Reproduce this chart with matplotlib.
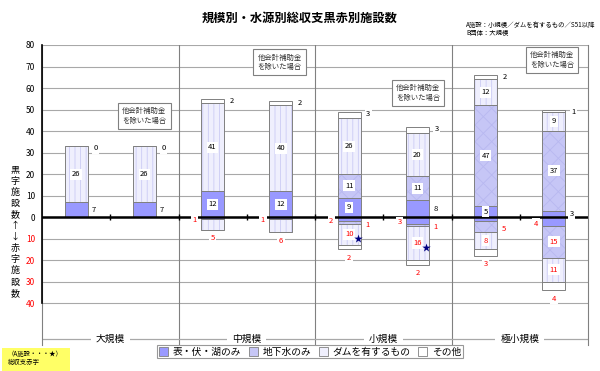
import matplotlib
matplotlib.use('Agg')
import matplotlib.pyplot as plt
from matplotlib.patches import Patch, Rectangle
import numpy as np

plt.rcParams['font.family'] = ['Noto Sans CJK JP', 'DejaVu Sans']
plt.rcParams['hatch.linewidth'] = 0.6

title = '規模別・水源別総収支黒赤別施設数'
note_lines = ['A施設：小規模／ダムを有するもの／S51以降', 'B団体：大規模']
groups = ['大規模', '中規模', '小規模', '極小規模']
series = ['表・伏・湖のみ', '地下水のみ', 'ダムを有するもの', 'その他']
y_ticks = [-40, -30, -20, -10, 0, 10, 20, 30, 40, 50, 60, 70, 80]
y_tick_labels = ['40', '30', '20', '10', '0', '10', '20', '30', '40', '50', '60', '70', '80']
ylabel_chars = list('黒字施設数↑↓赤字施設数')
box_text = '他会計補助金\nを除いた場合'
star_note = ['（A施設・・・★）', '総収支赤字']

# black-figure (positive) counts: two bars per size group
pos_surface = [7, 7, 12, 12, 9, 8, 5, 3]
pos_ground = [0, 0, 0, 0, 11, 11, 47, 37]
pos_dam = [26, 26, 41, 40, 26, 20, 12, 9]
pos_other = [0, 0, 2, 2, 3, 3, 2, 1]
# red-figure (negative) counts
neg_surface = [0, 0, 1, 1, 2, 3, 2, 4]
neg_ground = [0, 0, 0, 0, 1, 1, 5, 15]
neg_dam = [0, 0, 5, 6, 10, 16, 8, 11]
neg_other = [0, 0, 0, 0, 2, 2, 3, 4]
a_facility = [False, False, False, False, True, True, False, False]

# label placement modes (style)
pos_modes = [
    ['r', 'r', 'in', 'in', 'in', 'r', 'in', 'r'],
    [None, None, None, None, 'in', 'in', 'in', 'in'],
    ['in'] * 8,
    ['rt'] * 8,
]
neg_modes = [
    [None, None, 'l', 'l', 'l', 'l', None, 'l'],
    [None, None, None, None, 'r', 'r', 'r', 'in'],
    [None, None, 'b', 'b', 'in', 'in', 'in', 'in'],
    [None, None, None, None, 'b', 'b', 'b', 'b'],
]
box_x = [0.75, 1.74, 2.755, 3.736]
box_y = [47, 72, 57.7, 73]

faces = ['#9999FF', '#C6C6F6', '#EFEFFD', '#FFFFFF']
hatches = [None, 'xx', '|||', None]
hcolors = ['#9999FF', '#B8B8F0', '#CBCBF4', '#FFFFFF']
edge = '#808080'

fig = plt.figure(figsize=(6, 3.71), dpi=100)
ax = fig.add_axes([42 / 600, 1 - 345 / 371, 546 / 600, 300 / 371])
ax.set_xlim(0, 4)
ax.set_ylim(-59.4, 80)

for yv in y_ticks:
    ax.axhline(yv, color='#A8A8A8', lw=0.8, zorder=0)
for xv in [1, 2, 3]:
    ax.axvline(xv, color='#808080', lw=0.8, zorder=0.5)

xs = np.arange(8) * 0.5 + 0.25
w = 0.17

pos = [pos_surface, pos_ground, pos_dam, pos_other]
neg = [neg_surface, neg_ground, neg_dam, neg_other]

pos_bottom = np.zeros(8)
neg_bottom = np.zeros(8)
pos_centers = []
neg_centers = []
for i in range(4):
    pv = np.array(pos[i], dtype=float)
    nv = -np.array(neg[i], dtype=float)
    for vals, bot, store in [(pv, pos_bottom, pos_centers), (nv, neg_bottom, neg_centers)]:
        ax.bar(xs, vals, w, bottom=bot, color=faces[i], hatch=hatches[i],
               edgecolor=hcolors[i], linewidth=0, zorder=2)
        ax.bar(xs, vals, w, bottom=bot, fill=False, edgecolor=edge,
               linewidth=0.7, zorder=2.2)
        store.append(bot + vals / 2)
    pos_bottom = pos_bottom + pv
    neg_bottom = neg_bottom + nv

# zero line with small ticks
ax.axhline(0, color='black', lw=1.8, zorder=3)
ax.plot(np.arange(1, 8) * 0.5, np.zeros(7), ls='none', marker='|', ms=4,
        mew=1, color='black', zorder=3)

# left axis
ax.spines['left'].set_color('#808080')
ax.spines['right'].set_color('#808080')
ax.spines['top'].set_visible(False)
ax.spines['bottom'].set_visible(False)
ax.plot([0, 0], [-40, 80], color='black', lw=1.2, zorder=3, clip_on=False)

ax.set_yticks(y_ticks)
ax.set_yticklabels(y_tick_labels, fontsize=6)
for lbl, yv in zip(ax.get_yticklabels(), y_ticks):
    lbl.set_color('red' if yv < 0 else 'black')
ax.tick_params(axis='y', length=0, pad=5)
ax.set_xticks([])

# category axis line and labels
cat_y = -56.6
ax.axhline(cat_y, color='#A8A8A8', lw=0.9, zorder=0.6)
for g, name in enumerate(groups):
    ax.text(g + 0.5, cat_y, name, ha='center', va='center', fontsize=7,
            bbox=dict(boxstyle='square,pad=0.5', fc='white', ec='none'), zorder=4)

bb = dict(boxstyle='square,pad=0.2', fc='white', ec='none')
lab_fs = 5.5


def put(x, y, s, color, dx=0, dy=0, ha='center'):
    ax.annotate(s, (x, y), xytext=(dx, dy), textcoords='offset points',
                ha=ha, va='center', fontsize=lab_fs, color=color, bbox=bb, zorder=5)


half = w / 2
for i in range(4):
    for b in range(8):
        m = pos_modes[i][b]
        v = pos[i][b]
        if m == 'in':
            put(xs[b], pos_centers[i][b], str(v), 'black')
        elif m == 'r':
            put(xs[b] + half, pos_centers[i][b], str(v), 'black', dx=3, ha='left')
        elif m == 'rt':
            put(xs[b] + half, pos_bottom[b], str(v), 'black', dx=4, dy=-1.5, ha='left')
        m = neg_modes[i][b]
        v = neg[i][b]
        if m == 'in':
            put(xs[b], neg_centers[i][b], str(v), 'red')
        elif m == 'r':
            put(xs[b] + half, neg_centers[i][b], str(v), 'red', dx=3, dy=-1.5, ha='left')
        elif m == 'l':
            put(xs[b] - half, neg_centers[i][b], str(v), 'red', dx=-3, dy=-1.5, ha='right')
        elif m == 'b':
            put(xs[b], neg_bottom[b], str(v), 'red', dy=-6)
        if i == 2 and a_facility[b]:
            ax.annotate('★', (xs[b], neg_centers[i][b]), xytext=(6.5, -3.5),
                        textcoords='offset points', ha='center', va='center',
                        fontsize=6.5, color='#000080', zorder=6)

for bx, by in zip(box_x, box_y):
    ax.text(bx, by, box_text, ha='center', va='center', fontsize=5.3,
            linespacing=1.25, color='#333333',
            bbox=dict(boxstyle='square,pad=0.55', fc='white', ec='#808080', lw=0.8),
            zorder=4)

# y label, stacked characters
for k, ch in enumerate(ylabel_chars):
    fig.text(15 / 600, 1 - (170 + 11.2 * k) / 371, ch, ha='center', va='center',
             fontsize=6.5)

fig.text(300 / 600, 1 - 18 / 371, title, ha='center', va='center', fontsize=8.8,
         fontweight='bold')
fig.text(466 / 600, 1 - 25 / 371, note_lines[0], ha='left', va='center', fontsize=4.6)
fig.text(466 / 600, 1 - 33 / 371, note_lines[1], ha='left', va='center', fontsize=4.6)

# yellow note
fig.patches.append(Rectangle((2 / 600, 0), 68 / 600, 23 / 371, transform=fig.transFigure,
                             fc='#FFFF66', ec='none'))
fig.text(8 / 600, 1 - 354 / 371, star_note[0], ha='left', va='center', fontsize=4.6)
fig.text(8 / 600, 1 - 362 / 371, star_note[1], ha='left', va='center', fontsize=4.6)

handles = [Patch(facecolor=faces[i], edgecolor=edge, lw=0.6, hatch=None)
           for i in range(4)]
leg = fig.legend(handles, series, loc='center', bbox_to_anchor=(310 / 600, 1 - 351.5 / 371),
                 ncol=4, fontsize=7, frameon=True, fancybox=False, edgecolor='#808080',
                 handlelength=0.9, handleheight=1.0, handletextpad=0.5, columnspacing=0.8,
                 borderpad=0.2, borderaxespad=0)
leg.get_frame().set_linewidth(0.8)

fig.savefig('out.png', dpi=100)
